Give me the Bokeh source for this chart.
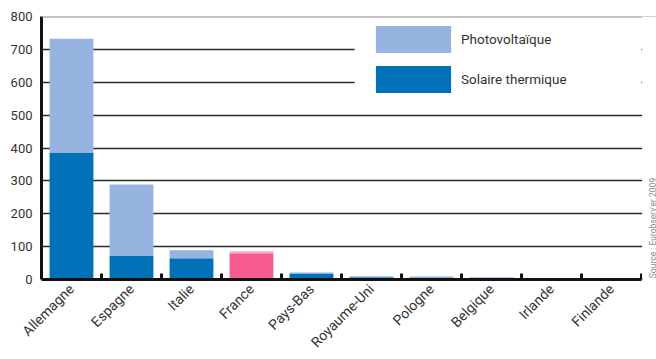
import math
from bokeh.plotting import figure
from bokeh.models import (ColumnDataSource, Range1d, FixedTicker, Span, Legend,
                          LegendItem, Label, BoxAnnotation)
from bokeh.embed import file_html
from bokeh.resources import INLINE

pays = ["Allemagne", "Espagne", "Italie", "France", "Pays-Bas", "Royaume-Uni",
        "Pologne", "Belgique", "Irlande", "Finlande"]
thermique = [386, 73, 65, 80, 18, 7, 6, 4, 1, 0.5]
photovoltaique = [346, 216, 24, 6, 3, 3, 3, 3, 0.3, 0.2]
highlight = "France"
y_ticks = [0, 100, 200, 300, 400, 500, 600, 700, 800]

DARK_BLUE = "#0071B6"
LIGHT_BLUE = "#97B4E0"
DARK_PINK = "#F55B8F"
LIGHT_PINK = "#F8A9C3"

n = len(pays)
x = [i + 0.5 for i in range(n)]
therm_col = [DARK_PINK if c == highlight else DARK_BLUE for c in pays]
pv_col = [LIGHT_PINK if c == highlight else LIGHT_BLUE for c in pays]

src = ColumnDataSource(dict(x=x, pays=pays, thermique=thermique,
                            photovoltaique=photovoltaique,
                            therm_col=therm_col, pv_col=pv_col))

FONT = "Roboto"

p = figure(width=656, height=359, output_backend="svg", toolbar_location=None,
           x_range=Range1d(0, n + 0.25), y_range=Range1d(0, 800),
           min_border_left=41, min_border_right=0, min_border_top=16,
           min_border_bottom=80, outline_line_color=None,
           background_fill_color="white", border_fill_color="white")

renderers = p.vbar_stack(["thermique", "photovoltaique"], x="x", width=0.73,
                         source=src, color=["therm_col", "pv_col"],
                         line_color=None)

# grid
p.xgrid.grid_line_color = None
p.ygrid.ticker = FixedTicker(ticks=y_ticks[1:-1])
p.ygrid.grid_line_color = "#2a2a2a"
p.ygrid.grid_line_width = 1.5
p.add_layout(Span(location=800, dimension="width", line_color="#8a8a8a",
                  line_width=2))

# white box behind the legend (hides gridlines there)
p.add_layout(BoxAnnotation(left=5.22, right=n, bottom=540, top=785,
                           fill_color="white", fill_alpha=1, line_alpha=0,
                           level="underlay"))
# white strip right of the last category (margin area for the source note)
p.add_layout(BoxAnnotation(left=n + 0.01, fill_color="white", fill_alpha=1,
                           line_alpha=0))

legend = Legend(items=[LegendItem(label="Photovoltaïque", renderers=[renderers[1]], index=0),
                       LegendItem(label="Solaire thermique", renderers=[renderers[0]], index=0)],
                location=(325, 183), padding=0, margin=0, spacing=6,
                glyph_width=94, glyph_height=34, label_standoff=1,
                label_text_font=FONT, label_text_font_size="13.5px",
                label_text_color="#333333", background_fill_alpha=0,
                border_line_color=None)
p.add_layout(legend)

# y axis
p.yaxis.ticker = FixedTicker(ticks=y_ticks)
p.yaxis.major_tick_out = 0
p.yaxis.major_tick_in = 0
p.yaxis.minor_tick_out = 0
p.yaxis.axis_line_width = 3
p.yaxis.axis_line_color = "#111111"
p.yaxis.major_label_standoff = 9
p.yaxis.major_label_text_font = FONT
p.yaxis.major_label_text_font_size = "13px"
p.yaxis.major_label_text_color = "#333333"

# x axis
p.xaxis.bounds = (0, n)
p.xaxis.ticker = FixedTicker(ticks=x, minor_ticks=list(range(1, n + 1)))
p.xaxis.major_label_overrides = {xx: c for xx, c in zip(x, pays)}
p.xaxis.major_tick_out = 0
p.xaxis.major_tick_in = 0
p.xaxis.minor_tick_in = 6
p.xaxis.minor_tick_out = 0
p.xaxis.minor_tick_line_width = 3
p.xaxis.minor_tick_line_color = "#111111"
p.xaxis.axis_line_width = 3
p.xaxis.axis_line_color = "#111111"
p.xaxis.major_label_orientation = math.pi / 4
p.xaxis.major_label_standoff = 7
p.xaxis.major_label_text_font = FONT
p.xaxis.major_label_text_font_size = "14px"
p.xaxis.major_label_text_color = "#333333"

p.add_layout(Label(x=n, y=4, x_offset=11, angle=math.pi / 2,
                   text="Source : Eurobserv'er 2009", text_font=FONT,
                   text_font_size="8.5px", text_color="#8c8c8c",
                   text_align="left", text_baseline="middle"))

open("out.html", "w").write(file_html(p, INLINE))
